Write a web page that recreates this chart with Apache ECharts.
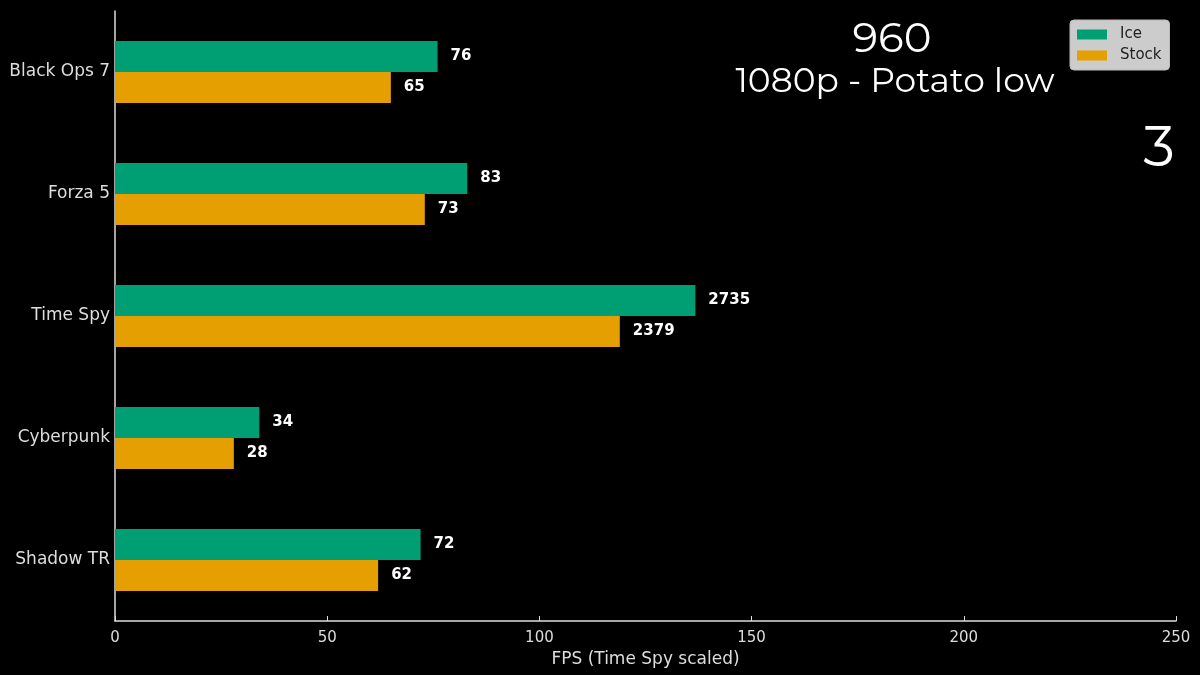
<!DOCTYPE html>
<html><head><meta charset="utf-8">
<script src="https://cdn.jsdelivr.net/npm/echarts@6/dist/echarts.min.js"></script>
<style>html,body{margin:0;padding:0;background:#000;}#c{width:1200px;height:675px;}</style>
</head><body><div id="c"></div>
<script>
const categories = ['Black Ops 7', 'Forza 5', 'Time Spy', 'Cyberpunk', 'Shadow TR'];
const iceRaw = [76, 83, 2735, 34, 72];
const stockRaw = [65, 73, 2379, 28, 62];
const scaleFactors = [1, 1, 20, 1, 1];
const xTicks = [0, 50, 100, 150, 200, 250];
const titleMain = '960';
const titleSub = '1080p - Potato low';
const cornerNum = '3';

const mk = raw => raw.map((v, i) => ({ value: v / scaleFactors[i], raw: v }));
const chart = echarts.init(document.getElementById('c'));
const font = 'DejaVu Sans';
const tFont = 'Montserrat, Lato, sans-serif';
const labelCfg = {
  show: true, position: 'right', distance: 13, color: '#ffffff',
  fontFamily: font, fontWeight: 'bold', fontSize: 15,
  formatter: p => String(p.data.raw)
};
chart.setOption({
  backgroundColor: '#000000',
  animation: false,
  title: [
    { text: titleMain, left: 887, top: 14, textAlign: 'center',
      textStyle: { color: '#fff', fontFamily: tFont, fontSize: 42, fontWeight: 'normal' } },
    { text: titleSub, left: 890, top: 59, textAlign: 'center',
      textStyle: { color: '#fff', fontFamily: tFont, fontSize: 34.5, fontWeight: 'normal' } },
    { text: cornerNum, left: 1154, top: 117, textAlign: 'center',
      textStyle: { color: '#fff', fontFamily: tFont, fontSize: 56, fontWeight: 'normal' } }
  ],
  legend: {
    orient: 'vertical', left: 1070, top: 20, width: 98,
    backgroundColor: '#cccccc', borderRadius: 4, borderColor: '#bbbbbb', borderWidth: 1,
    padding: [7, 8, 7, 7], itemGap: 6, itemWidth: 30, itemHeight: 10, icon: 'rect',
    textStyle: { color: '#222', fontFamily: font, fontSize: 15, padding: [0, 6, 0, 8] },
    data: ['Ice', 'Stock']
  },
  grid: { left: 115, right: 24, top: 11, bottom: 54 },
  xAxis: {
    type: 'value', min: 0, max: 250, interval: 50,
    name: 'FPS (Time Spy scaled)', nameLocation: 'middle', nameGap: 27,
    nameTextStyle: { color: '#dddddd', fontFamily: font, fontSize: 17 },
    axisLine: { show: true, lineStyle: { color: '#dddddd', width: 1.5 } },
    axisTick: { show: true, inside: true, length: 5, lineStyle: { color: '#dddddd' } },
    axisLabel: { color: '#dddddd', fontFamily: font, fontSize: 15, margin: 10,
      formatter: v => xTicks.includes(v) ? String(v) : '' },
    splitLine: { show: false }
  },
  yAxis: {
    type: 'category', data: categories, inverse: true,
    axisLine: { show: true, lineStyle: { color: '#dddddd', width: 1.5 } },
    axisTick: { show: false },
    axisLabel: { color: '#dddddd', fontFamily: font, fontSize: 17, margin: 5 }
  },
  series: [
    { name: 'Ice', type: 'bar', data: mk(iceRaw), barWidth: 31, barGap: '0%',
      itemStyle: { color: '#009E73' }, label: labelCfg },
    { name: 'Stock', type: 'bar', data: mk(stockRaw), barWidth: 31, barGap: '0%',
      itemStyle: { color: '#E69F00' }, label: labelCfg }
  ]
});
</script></body></html>
